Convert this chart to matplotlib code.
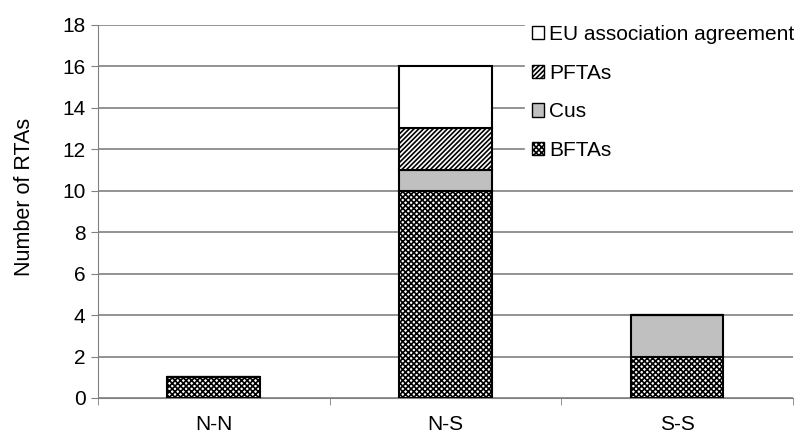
import matplotlib.pyplot as plt
import numpy as np

plt.rcParams['font.family'] = ['Liberation Sans', 'DejaVu Sans']
plt.rcParams['hatch.linewidth'] = 1.2

categories = ["N-N", "N-S", "S-S"]
bftas = [1, 10, 2]
cus = [0, 1, 2]
pftas = [0, 2, 0]
eu = [0, 3, 0]

fig = plt.figure(figsize=(8.05, 4.36), dpi=100)
ax = fig.add_axes([0.1217, 0.0872, 0.8633, 0.8558])

x = np.arange(len(categories))
w = 0.4
b1 = ax.bar(x, bftas, w, color="white", edgecolor="black", hatch="xxxxxx", linewidth=1.5, label="BFTAs", zorder=3)
bottom = np.array(bftas)
b2 = ax.bar(x, cus, w, bottom=bottom, color="#c0c0c0", edgecolor="black", linewidth=1.5, label="Cus", zorder=3)
bottom = bottom + np.array(cus)
b3 = ax.bar(x, pftas, w, bottom=bottom, color="white", edgecolor="black", hatch="///////", linewidth=1.5, label="PFTAs", zorder=3)
bottom = bottom + np.array(pftas)
b4 = ax.bar(x, eu, w, bottom=bottom, color="white", edgecolor="black", linewidth=1.5, label="EU association agreement", zorder=3)

ax.set_xlim(-0.5, 2.5)
ax.set_ylim(0, 18)
ax.set_yticks(range(0, 19, 2))
ax.set_xticks(x)
ax.set_xticklabels(categories, fontsize=15)
ax.tick_params(axis="y", labelsize=15, length=5, color="#808080", pad=4)
ax.tick_params(axis="x", length=0, pad=12)
ax.set_xticks([-0.5, 0.5, 1.5, 2.5], minor=True)
ax.tick_params(axis="x", which="minor", length=5, color="#808080")
ax.yaxis.grid(True, color="#808080", linewidth=1.2, zorder=0)
ax.set_axisbelow(True)
for s in ["top", "right"]:
    ax.spines[s].set_visible(False)
ax.spines["left"].set_color("#808080")
ax.spines["bottom"].set_color("#808080")
ax.set_ylabel("Number of RTAs", fontsize=15.5)
ax.yaxis.set_label_coords(-0.091, 0.54)

leg = ax.legend(handles=[b4, b3, b2, b1], loc="upper left", bbox_to_anchor=(0.6, 1.045),
                fontsize=15, frameon=True, fancybox=False, edgecolor="white",
                handlelength=0.6, handleheight=0.6, handletextpad=0.25, labelspacing=0.95,
                borderpad=0.3, framealpha=1)
for h in leg.legend_handles:
    h.set_linewidth(1)

fig.savefig("out.png", dpi=100)
